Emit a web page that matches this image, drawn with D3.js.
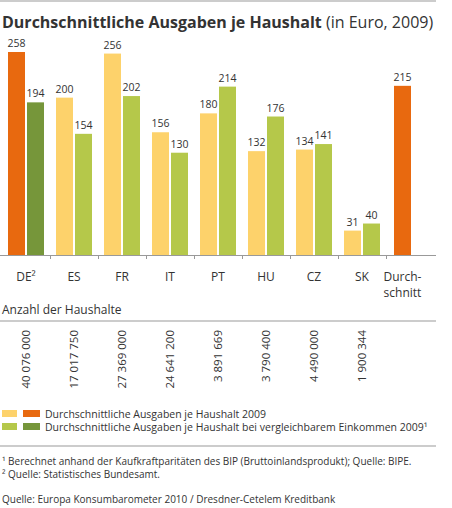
<!DOCTYPE html>
<html lang="de">
<head>
<meta charset="UTF-8">
<script src="https://d3js.org/d3.v7.min.js"></script>
<style>
  body { margin: 0; background: #fff; }
  text { font-family: "Open Sans", sans-serif; fill: #333; }
</style>
</head>
<body>
<svg id="chart" width="452" height="508"></svg>
<script>
// data
const countries = ["DE²", "ES", "FR", "IT", "PT", "HU", "CZ", "SK"];
const ausgaben = [258, 200, 256, 156, 180, 132, 134, 31];
const vergleichbar = [194, 154, 202, 130, 214, 176, 141, 40];
const haushalte = ["40 076 000", "17 017 750", "27 369 000", "24 641 200", "3 891 669", "3 790 400", "4 490 000", "1 900 344"];
const durchschnitt = 215;

const svg = d3.select("#chart");
const base = 255;
const y = d3.scaleLinear().domain([0, 258]).range([base, 52]);
const x = d3.scaleBand().domain(d3.range(9)).range([2, 434]).paddingInner(0).paddingOuter(0);
const bw = 17;

svg.append("line").attr("x1", 0).attr("x2", 436).attr("y1", 1).attr("y2", 1).attr("stroke", "#999");

const title = svg.append("text").attr("x", 2).attr("y", 28).style("font-size", "16px");
title.append("tspan").attr("font-weight", "bold").text("Durchschnittliche Ausgaben je Haushalt");
title.append("tspan").text(" (in Euro, 2009)");

// bars
countries.forEach((c, i) => {
  const x0 = x(i) + 6;
  const c1 = i === 0 ? "#e8690f" : "#fdd26b";
  const c2 = i === 0 ? "#76963a" : "#b5c84a";
  [[ausgaben[i], c1, x0], [vergleichbar[i], c2, x0 + 19]].forEach(([v, col, bx]) => {
    svg.append("rect").attr("x", bx).attr("width", bw).attr("y", y(v)).attr("height", base - y(v)).attr("fill", col);
    svg.append("text").attr("x", bx + bw / 2).attr("y", y(v) - 5).attr("text-anchor", "middle")
      .style("font-size", "10.5px").text(v);
  });
  svg.append("text").attr("x", x(i) + 24).attr("y", 281).attr("text-anchor", "middle")
    .style("font-size", "12px").text(c);
  svg.append("text").attr("transform", `translate(${x(i) + 28},330) rotate(-90)`).attr("text-anchor", "end")
    .style("font-size", "11.5px").text(haushalte[i]);
});
const xd = x(8) + 8;
svg.append("rect").attr("x", xd).attr("width", bw).attr("y", y(durchschnitt)).attr("height", base - y(durchschnitt)).attr("fill", "#e8690f");
svg.append("text").attr("x", xd + bw / 2).attr("y", y(durchschnitt) - 5).attr("text-anchor", "middle").style("font-size", "10.5px").text(durchschnitt);
svg.append("text").attr("x", xd + bw / 2).attr("y", 281).attr("text-anchor", "middle").style("font-size", "12px").text("Durch-");
svg.append("text").attr("x", xd + bw / 2).attr("y", 297).attr("text-anchor", "middle").style("font-size", "12px").text("schnitt");

// baseline and ticks
svg.append("line").attr("x1", 0).attr("x2", 436).attr("y1", base + 0.5).attr("y2", base + 0.5).attr("stroke", "#999");
d3.range(1, 9).forEach(i => {
  svg.append("line").attr("x1", x(i) + 0.5).attr("x2", x(i) + 0.5).attr("y1", base).attr("y2", base + 4).attr("stroke", "#999");
});

svg.append("text").attr("x", 2).attr("y", 314).style("font-size", "12px").text("Anzahl der Haushalte");
svg.append("line").attr("x1", 0).attr("x2", 436).attr("y1", 321).attr("y2", 321).attr("stroke", "#999");

// legend
const leg = [
  ["#fdd26b", "#e8690f", "Durchschnittliche Ausgaben je Haushalt 2009"],
  ["#b5c84a", "#76963a", "Durchschnittliche Ausgaben je Haushalt bei vergleichbarem Einkommen 2009¹"]
];
leg.forEach(([a, b, t], i) => {
  const yy = 410 + i * 13;
  svg.append("rect").attr("x", 2).attr("y", yy).attr("width", 15).attr("height", 7).attr("fill", a);
  svg.append("rect").attr("x", 23).attr("y", yy).attr("width", 17).attr("height", 7).attr("fill", b);
  svg.append("text").attr("x", 45).attr("y", yy + 7.5).style("font-size", "10.5px").text(t);
});
svg.append("line").attr("x1", 0).attr("x2", 436).attr("y1", 446).attr("y2", 446).attr("stroke", "#999");

const notes = [
  [465, "¹ Berechnet anhand der Kaufkraftparitäten des BIP (Bruttoinlandsprodukt); Quelle: BIPE."],
  [478, "² Quelle: Statistisches Bundesamt."],
  [503, "Quelle: Europa Konsumbarometer 2010 / Dresdner-Cetelem Kreditbank"]
];
notes.forEach(([yy, t]) => svg.append("text").attr("x", 2).attr("y", yy).style("font-size", "10px").text(t));
</script>
</body>
</html>
